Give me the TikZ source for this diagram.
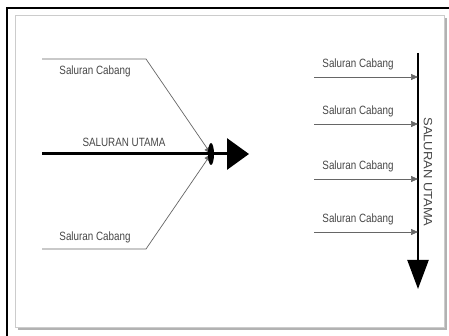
\documentclass[tikz,border=0pt]{standalone}
\usepackage{fontspec}
\setmainfont{Liberation Sans}
\usetikzlibrary{arrows.meta}

\begin{document}
\begin{tikzpicture}[x=1pt,y=-1pt]
  \tikzset{
    txt/.style={text=black!72, font=\fontsize{12}{13}\selectfont, inner sep=0pt},
    label/.style={txt, xscale=0.82},
    branch/.style={draw=black!60, line width=0.7pt},
    tobranch/.style={branch, -{Triangle[length=7pt,width=6pt]}},
    mainline/.style={draw=black, line width=3pt, -{Triangle[length=22pt,width=31pt]}},
    mainvert/.style={draw=black, line width=2.2pt, -{Triangle[length=29pt,width=21pt]}},
  }
  \useasboundingbox (0,0) rectangle (449,336);
  % frame and panel
  \draw[line width=1.6pt] (7,8) rectangle (460,345);
  \fill[black!30] (18,18) rectangle (447,330);
  \filldraw[fill=white, draw=black!20] (15,15) rectangle (444,327);

  % left picture: two branches meeting the main line
  \coordinate (tl) at (42,59);   % top branch start
  \coordinate (tk) at (146,59);  % top knee
  \coordinate (bl) at (42,249);  % bottom branch start
  \coordinate (bk) at (146,249); % bottom knee
  \coordinate (j) at (211,154);  % junction
  \coordinate (ms) at (42,154);  % main start
  \coordinate (me) at (249,154); % main end

  \draw[mainline] (ms) -- (me);
  \draw[tobranch] (tl) -- (tk) -- (j);
  \draw[tobranch] (bl) -- (bk) -- (j);
  \fill (j) ellipse (3pt and 11pt);

  \node[label] (ltop) at (95,71) {Saluran Cabang};
  \node[label] (lbot) at (95,237) {Saluran Cabang};
  \node[label] (lmain) at (124,142) {SALURAN UTAMA};

  % right picture: branches along a vertical main line
  \coordinate (vs) at (418,53);
  \coordinate (ve) at (418,289);
  \draw[mainvert] (vs) -- (ve);
  \foreach \y/\n in {77/1,124/2,179/3,232/4}{
    \coordinate (b\n) at (314,\y);
    \coordinate (e\n) at (418,\y);
    \draw[tobranch] (b\n) -- (e\n);
    \node[label] (r\n) at (358,\y-13) {Saluran Cabang};
  }
  \node[txt, rotate=-90, xscale=1.08] (rmain) at (428,172) {SALURAN UTAMA};
\end{tikzpicture}
\end{document}
